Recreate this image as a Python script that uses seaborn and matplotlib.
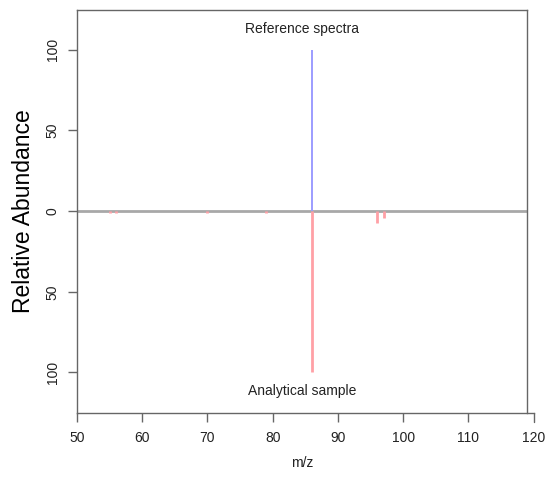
import matplotlib
matplotlib.use("Agg")
import matplotlib.pyplot as plt
import seaborn as sns
import numpy as np

# Data
ref_mz = [86]
ref_int = [100]
sample_mz = [55, 56, 70, 79, 86, 96, 97]
sample_int = [1.5, 1.5, 1.2, 1.2, 100, 7.2, 4.2]
x_ticks = [50, 60, 70, 80, 90, 100, 110, 120]
y_ticks = [-100, -50, 0, 50, 100]
y_tick_labels = ["100", "50", "0", "50", "100"]

sns.set_style("white")
plt.rcParams['font.family'] = ['Liberation Sans', 'DejaVu Sans']

fig = plt.figure(figsize=(5.47, 4.78), dpi=100)
ax_h = 0.980 - 0.137
ax = fig.add_axes([0.1408, 0.137, 0.9634 - 0.1408, ax_h])

axis_col = "#666666"
ax.axhline(0, color="#a8a8a8", lw=2.0, zorder=1)
ax.vlines(ref_mz, 0, ref_int, color="#9c9cff", lw=1.4, zorder=2)
ax.vlines(sample_mz, 0, -np.array(sample_int), color="#ffa0a6", lw=2.0, zorder=2)

ax.set_xlim(50, 119)
ax.set_ylim(-124.8, 124.8)

ax.set_xticks([t for t in x_ticks if t <= 119])
ax.set_yticks(y_ticks)
ax.set_yticklabels(y_tick_labels, rotation=90, va="center")

for s in ax.spines.values():
    s.set_color(axis_col)
    s.set_linewidth(1.0)
ax.spines["bottom"].set_bounds(50, 120)

tick_len = 6.5
ax.tick_params(axis="both", direction="out", length=tick_len, width=1.0,
               color=axis_col, labelsize=10, labelcolor="#222222",
               left=True, bottom=True)
ax.tick_params(axis="x", pad=7)
ax.tick_params(axis="y", pad=6)

# extra tick at 120 beyond the plot region (R-style axis)
trans = ax.get_xaxis_transform()
tick_frac = (tick_len / 72 * 100) / (ax_h * 478)
ax.plot([x_ticks[-1], x_ticks[-1]], [0, -tick_frac], transform=trans,
        color=axis_col, lw=1.0, clip_on=False)
ax.annotate(str(x_ticks[-1]), xy=(x_ticks[-1], 0), xycoords=trans,
            xytext=(0, -tick_len - 7), textcoords="offset points",
            ha="center", va="top", fontsize=10, color="#222222", annotation_clip=False)

ax.set_xlabel("m/z", fontsize=10, labelpad=8, color="#222222")
ax.set_ylabel("Relative Abundance", fontsize=16.5, labelpad=8, color="black")

ax.text(84.5, 113, "Reference spectra", ha="center", va="center", fontsize=10, color="#222222")
ax.text(84.5, -111.5, "Analytical sample", ha="center", va="center", fontsize=10, color="#222222")

fig.savefig("out.png", dpi=100)
